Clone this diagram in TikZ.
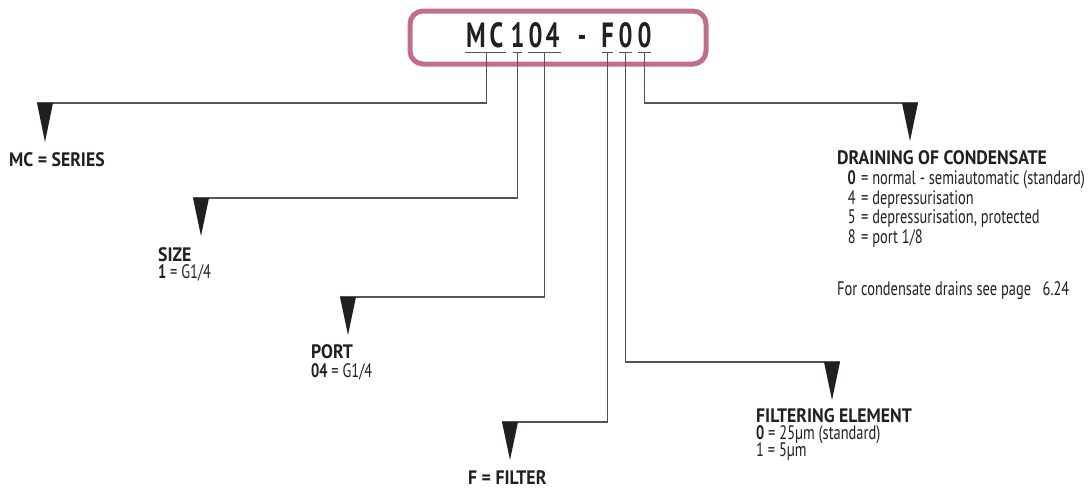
\documentclass[tikz,border=0pt]{standalone}
\usepackage{fontspec}
\setmainfont{PT Sans}
\newfontfamily\bfont{PT Sans}[FakeStretch=0.91]
\newfontfamily\rfont{PT Sans}[FakeStretch=0.74]
\newfontfamily\tfont{PT Sans}[FakeStretch=0.70]
\definecolor{ink}{RGB}{35,31,32}
\definecolor{mauve}{RGB}{193,110,142}
\definecolor{wire}{RGB}{85,85,88}
\tikzset{
  lbl/.style={font=\bfont\bfseries\fontsize{19.5}{21}\selectfont, anchor=base west, inner sep=0pt, text=ink},
  txt/.style={font=\rfont\fontsize{19.5}{21}\selectfont, anchor=base west, inner sep=0pt, text=ink},
  num/.style={txt, anchor=base east},
  ttl/.style={font=\tfont\bfseries\fontsize{35}{37}\selectfont, anchor=base, inner sep=0pt, text=ink},
  conn/.style={draw=wire, line width=1.2pt},
  uline/.style={draw=wire, line width=1pt},
  tri/.style={fill=ink},
  codebox/.style={draw=mauve, line width=5pt, rounded corners=13pt, minimum width=296pt, minimum height=53pt, inner sep=0pt}
}
\begin{document}
\begin{tikzpicture}[x=1pt,y=-1pt]
\useasboundingbox (0,0) rectangle (1089,488);
\node[codebox] (box) at (558,37.5) {};
% title characters
\node[ttl] (cM) at (476,47) {M};
\node[ttl] (cC) at (496.5,47) {C};
\node[ttl] (c1) at (517.5,47) {1};
\node[ttl] (c0) at (535.5,47) {0};
\node[ttl] (c4) at (552.5,47) {4};
\node[ttl] (cd) at (582,47) {-};
\node[ttl] (cF) at (607.5,47) {F};
\node[ttl] (cA) at (625.5,47) {0};
\node[ttl] (cB) at (644.5,47) {0};
% underlines
\draw[uline] (465,52) -- (506,52);
\draw[uline] (513,52) -- (522,52);
\draw[uline] (528,52) -- (561,52);
\draw[uline] (602,52) -- (613,52);
\draw[uline] (619,52) -- (632,52);
\draw[uline] (638,52) -- (651,52);
% connector starts
\coordinate (uMC) at (486.5,52);
\coordinate (uSZ) at (517.5,52);
\coordinate (uPT) at (544.5,52);
\coordinate (uF) at (607.5,52);
\coordinate (uFE) at (625.5,52);
\coordinate (uDR) at (644.5,52);
% connector ends (outer triangle corners)
\coordinate (tMC) at (37,103);
\coordinate (tSZ) at (193,198);
\coordinate (tPT) at (340,297);
\coordinate (tF) at (502,422);
\coordinate (tFE) at (840,362);
\coordinate (tDR) at (918,103);
\draw[conn] (uMC) |- (tMC);
\draw[conn] (uSZ) |- (tSZ);
\draw[conn] (uPT) |- (tPT);
\draw[conn] (uF) |- (tF);
\draw[conn] (uFE) |- (tFE);
\draw[conn] (uDR) |- (tDR);
% triangles
\fill[tri] (tMC) -- ++(16,0) -- ++(-8,39) -- cycle;
\fill[tri] (tSZ) -- ++(16,0) -- ++(-8,38) -- cycle;
\fill[tri] (tPT) -- ++(16,0) -- ++(-8,38) -- cycle;
\fill[tri] (tF) -- ++(16,0) -- ++(-8,38) -- cycle;
\fill[tri] (tFE) -- ++(-16,0) -- ++(8,38) -- cycle;
\fill[tri] (tDR) -- ++(-16,0) -- ++(8,38) -- cycle;
% labels
\node[lbl] (sMC) at (9,166) {MC = SERIES};
\node[lbl] (sSZ) at (158,261) {SIZE};
\node[txt] (vSZ) at (158,278) {\bfseries 1\mdseries{} = G1/4};
\node[lbl] (sPT) at (311,358) {PORT};
\node[txt] (vPT) at (311,377) {\bfseries 04\mdseries{} = G1/4};
\node[lbl] (sF) at (468,484) {F = FILTER};
\node[lbl] (sFE) at (756,422) {FILTERING ELEMENT};
\node[txt] (vFEa) at (756,439) {\bfseries 0\mdseries{} = 25µm (standard)};
\node[txt] (vFEb) at (756,456) {1 = 5µm};
\node[lbl] (sDR) at (837,164) {DRAINING OF CONDENSATE};
\node[num] (nDRa) at (856,184) {\bfseries 0};
\node[txt] (vDRa) at (861,184) {= normal - semiautomatic (standard)};
\node[num] (nDRb) at (856,204) {4};
\node[txt] (vDRb) at (861,204) {= depressurisation};
\node[num] (nDRc) at (856,223.5) {5};
\node[txt] (vDRc) at (861,223.5) {= depressurisation, protected};
\node[num] (nDRd) at (856,243) {8};
\node[txt] (vDRd) at (861,243) {= port 1/8};
\node[txt] (vDRe) at (837,295) {For condensate drains see page\ \ \ 6.24};
\end{tikzpicture}
\end{document}
